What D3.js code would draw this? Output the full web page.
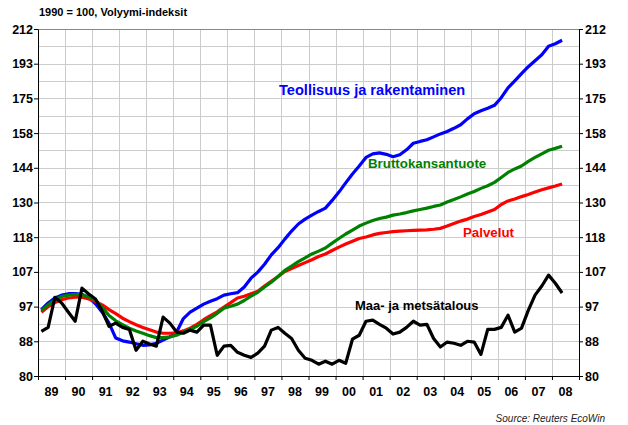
<!DOCTYPE html>
<html>
<head>
<meta charset="utf-8">
<title>Volyymi-indeksit</title>
<script src="https://cdn.jsdelivr.net/npm/d3@7/dist/d3.min.js"></script>
<style>
  body { margin: 0; background: #fff; }
  svg text { font-family: Arial, "Liberation Sans", sans-serif; }
</style>
</head>
<body>
<script>
// quarterly volume indices, 1990 = 100, 1989Q1 .. 2008Q2
var startYear = 1989;
var yearLabels = ["89","90","91","92","93","94","95","96","97","98","99","00","01","02","03","04","05","06","07","08"];
var tickLabels = [80, 88, 97, 107, 118, 130, 144, 158, 175, 193, 212];

var teollisuus = [96.4, 98.2, 99.6, 100.4, 100.8, 100.8, 100.6, 99.8, 98.0, 95.7,
  92.8, 89.0, 88.3, 88.0, 87.6, 87.2, 87.3, 87.7, 88.5, 89.3,
  90.5, 94.0, 95.7, 96.8, 97.9, 98.7, 99.4, 100.4, 100.8, 101.1,
  102.7, 105.3, 107.1, 109.5, 112.4, 114.7, 117.5, 120.2, 122.6, 124.3,
  125.7, 127.0, 128.2, 131.0, 134.1, 137.6, 141.1, 144.3, 147.8, 149.3,
  149.7, 149.1, 148.1, 148.9, 151.0, 153.8, 154.6, 155.3, 156.6, 157.9,
  159.0, 160.4, 162.0, 164.7, 167.1, 168.5, 169.7, 171.1, 174.8, 179.7,
  183.3, 187.0, 190.7, 193.9, 197.2, 202.0, 203.4, 205.4];

var bkt = [96.1, 97.7, 99.1, 100.0, 100.4, 100.6, 100.5, 99.9, 99.0, 97.0,
  94.8, 93.4, 92.4, 91.5, 90.8, 90.2, 89.6, 89.1, 89.1, 89.3,
  89.7, 90.5, 91.2, 92.0, 93.2, 94.2, 95.4, 96.8, 97.3, 97.9,
  98.9, 100.1, 101.2, 102.7, 104.1, 105.8, 107.6, 108.9, 110.3, 111.5,
  112.7, 113.6, 114.6, 116.2, 117.7, 119.2, 120.5, 121.9, 122.9, 123.8,
  124.5, 125.0, 125.7, 126.1, 126.6, 127.2, 127.7, 128.2, 128.8, 129.3,
  130.4, 131.3, 132.3, 133.4, 134.3, 135.5, 136.5, 137.8, 139.7, 141.7,
  143.1, 144.3, 146.2, 147.8, 149.3, 150.8, 151.6, 152.5];

var palvelut = [95.7, 97.2, 98.3, 99.1, 99.6, 99.8, 99.8, 99.3, 98.6, 97.7,
  96.4, 95.3, 94.1, 93.2, 92.4, 91.7, 91.1, 90.5, 90.2, 90.2,
  90.3, 90.8, 91.5, 92.5, 93.7, 94.8, 95.8, 97.1, 98.3, 99.6,
  100.1, 100.8, 101.5, 103.0, 104.4, 105.8, 107.3, 108.2, 109.1, 110.0,
  110.9, 111.9, 112.7, 113.8, 114.9, 115.9, 116.8, 117.7, 118.2, 118.9,
  119.4, 119.7, 120.0, 120.2, 120.3, 120.4, 120.5, 120.6, 120.8, 121.1,
  121.9, 122.8, 123.6, 124.3, 125.2, 125.9, 126.8, 127.7, 129.5, 130.8,
  131.5, 132.4, 133.2, 134.1, 135.0, 135.7, 136.4, 137.2];

var maatalous = [90.7, 91.7, 99.8, 98.2, 95.7, 93.3, 102.4, 100.7, 99.3, 96.0,
  92.0, 92.8, 91.7, 91.2, 86.0, 88.2, 87.5, 87.0, 94.4, 92.8,
  90.5, 90.2, 91.0, 90.5, 92.3, 92.3, 84.8, 87.0, 87.2, 85.5,
  84.8, 84.3, 85.3, 87.0, 91.0, 91.7, 90.2, 88.9, 86.0, 84.1,
  83.6, 82.7, 83.4, 82.7, 83.6, 82.9, 88.7, 89.7, 93.3, 93.6,
  92.5, 91.5, 90.0, 90.5, 91.7, 93.3, 92.3, 92.5, 88.9, 86.8,
  88.0, 87.7, 87.2, 88.2, 88.0, 85.0, 91.2, 91.2, 91.7, 94.9,
  90.5, 91.5, 96.2, 100.4, 103.0, 106.2, 103.8, 101.0];

// dimensions
var margin = {top: 29, right: 49, bottom: 49, left: 38};
var width = 628 - margin.left - margin.right,
    height = 425 - margin.top - margin.bottom;

var svg = d3.select("body").append("svg")
    .attr("width", 628)
    .attr("height", 425);

var g = svg.append("g")
    .attr("transform", "translate(" + margin.left + "," + margin.top + ")");

// scales
var x = d3.scaleLinear().domain([startYear, startYear + yearLabels.length]).range([0, width]);
var xBand = d3.scaleBand().domain(yearLabels).range([0, width]);
var yMin = tickLabels[0], yMax = tickLabels[tickLabels.length - 1];
var y = d3.scaleLog().domain([yMin, yMax]).range([height, 0]);

// ticks are evenly spaced on the log axis
var nSteps = tickLabels.length - 1;
var tickVals = tickLabels.map(function(d, i) { return yMin * Math.pow(yMax / yMin, i / nSteps); });
var midVals = d3.range(nSteps).map(function(i) { return yMin * Math.pow(yMax / yMin, (i + 0.5) / nSteps); });
var years = d3.range(startYear, startYear + yearLabels.length + 1);

// grid
g.append("g").selectAll("line")
    .data(tickVals.concat(midVals))
    .enter().append("line")
    .attr("x1", 0).attr("x2", width)
    .attr("y1", function(d) { return Math.round(y(d)) + 0.5; })
    .attr("y2", function(d) { return Math.round(y(d)) + 0.5; })
    .attr("stroke", "#cccccc");

g.append("g").selectAll("line")
    .data(years)
    .enter().append("line")
    .attr("x1", function(d) { return Math.round(x(d)) + 0.5; })
    .attr("x2", function(d) { return Math.round(x(d)) + 0.5; })
    .attr("y1", 0).attr("y2", height)
    .attr("stroke", "#cccccc");

// top border
g.append("line")
    .attr("x1", 0).attr("x2", width)
    .attr("y1", 0.5).attr("y2", 0.5)
    .attr("stroke", "#888");

// lines
var quarters = d3.range(teollisuus.length).map(function(i) { return startYear + (i + 0.5) / 4; });
var line = d3.line()
    .x(function(d, i) { return x(quarters[i]); })
    .y(function(d) { return y(d); });

var series = [
  {values: teollisuus, color: "#0000ff"},
  {values: palvelut, color: "#ff0000"},
  {values: bkt, color: "#008000"},
  {values: maatalous, color: "#000000"}
];

g.selectAll(".series")
    .data(series)
    .enter().append("path")
    .attr("class", "series")
    .attr("d", function(s) { return line(s.values); })
    .attr("fill", "none")
    .attr("stroke", function(s) { return s.color; })
    .attr("stroke-width", 3.2)
    .attr("stroke-linejoin", "round");

// axes
var fmt = function(d, i) { return tickLabels[i]; };

var yLeft = g.append("g")
    .call(d3.axisLeft(y).tickValues(tickVals).tickFormat(fmt).tickSize(4).tickSizeOuter(0).tickPadding(1));
var yRight = g.append("g")
    .attr("transform", "translate(" + width + ",0)")
    .call(d3.axisRight(y).tickValues(tickVals).tickFormat(fmt).tickSize(4).tickSizeOuter(0).tickPadding(2));
var xAxis = g.append("g")
    .attr("transform", "translate(0," + height + ")")
    .call(d3.axisBottom(x).tickValues(years).tickFormat("").tickSize(4).tickSizeOuter(0));

[yLeft, yRight, xAxis].forEach(function(a) {
  a.selectAll("path, line").attr("stroke", "#000");
  a.selectAll("text")
    .style("font-size", "12.5px")
    .style("font-weight", "bold")
    .attr("fill", "#000");
});

// year labels in the middle of each year
g.append("g").selectAll("text")
    .data(yearLabels)
    .enter().append("text")
    .attr("x", function(d) { return xBand(d) + xBand.bandwidth() / 2; })
    .attr("y", height + 20)
    .attr("text-anchor", "middle")
    .style("font-size", "12.5px")
    .style("font-weight", "bold")
    .text(function(d) { return d; });

// series labels
var labels = [
  {text: "Teollisuus ja rakentaminen", x: 279, y: 95, size: 14.6, color: "#0000ff"},
  {text: "Bruttokansantuote", x: 368, y: 168, size: 13.3, color: "#008000"},
  {text: "Palvelut", x: 463, y: 237, size: 13.3, color: "#ff0000"},
  {text: "Maa- ja metsätalous", x: 355, y: 310, size: 13, color: "#000000"}
];
svg.selectAll(".lbl")
    .data(labels)
    .enter().append("text")
    .attr("class", "lbl")
    .attr("x", function(d) { return d.x; })
    .attr("y", function(d) { return d.y; })
    .attr("fill", function(d) { return d.color; })
    .style("font-size", function(d) { return d.size + "px"; })
    .style("font-weight", "bold")
    .text(function(d) { return d.text; });

// subtitle and source
svg.append("text")
    .attr("x", 39).attr("y", 16)
    .style("font-size", "11px")
    .style("font-weight", "bold")
    .text("1990 = 100, Volyymi-indeksit");

svg.append("text")
    .attr("x", 605).attr("y", 422)
    .attr("text-anchor", "end")
    .attr("fill", "#222")
    .style("font-size", "10px")
    .style("font-style", "italic")
    .text("Source: Reuters EcoWin");
</script>
</body>
</html>
